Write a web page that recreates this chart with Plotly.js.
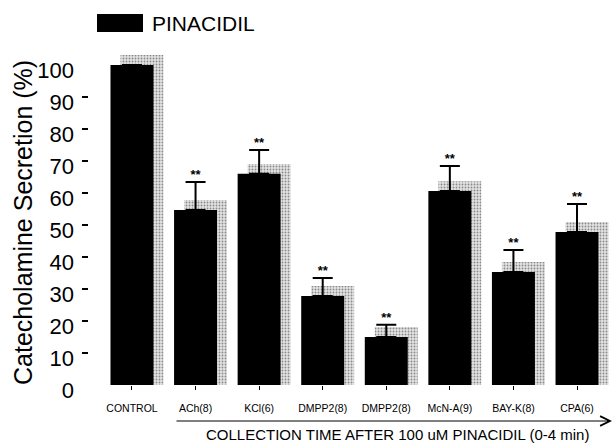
<!DOCTYPE html>
<html>
<head>
<meta charset="utf-8">
<script src="https://cdn.plot.ly/plotly-3.0.1.min.js"></script>
<style>
  html, body { margin: 0; padding: 0; background: #fff; }
  #chart { width: 616px; height: 443px; }
</style>
</head>
<body>
<div id="chart"></div>
<script>
// Catecholamine secretion evoked by pinacidil under each condition
const categories = ['CONTROL', 'ACh(8)', 'KCl(6)', 'DMPP2(8)', 'DMPP2(8)', 'McN-A(9)', 'BAY-K(8)', 'CPA(6)'];
const secretion  = [100, 54.7, 66.0, 27.8, 15.0, 60.6, 35.3, 47.8];
const sem        = [0, 8.7, 7.4, 5.6, 3.8, 7.8, 6.9, 8.8];
const significance = ['', '**', '**', '**', '**', '**', '**', '**'];
const yTicks = [0, 10, 20, 30, 40, 50, 60, 70, 80, 90, 100];

const pos = categories.map((_, i) => i);
const BAR_W = 0.676;        // bar width in category units
const SHADOW_DX = 0.157;    // drop shadow shift to the right
const SHADOW_DY = 3.1;      // drop shadow shift upward

const FONT = 'Liberation Sans, Arial, Helvetica, sans-serif';

const shadow = {
  type: 'bar',
  x: pos,
  y: secretion.map(v => v + SHADOW_DY),
  width: BAR_W,
  offset: -BAR_W / 2 + SHADOW_DX,
  marker: {
    color: '#d8d8d8',
    line: { width: 0 },
    pattern: { shape: '.', fgcolor: '#8a8a8a', bgcolor: '#e4e4e4', size: 3, solidity: 0.3 }
  },
  hoverinfo: 'skip',
  showlegend: false
};

const bars = {
  type: 'bar',
  x: pos,
  y: secretion,
  width: BAR_W,
  offset: -BAR_W / 2,
  marker: { color: '#000000', line: { width: 0 } },
  error_y: {
    type: 'data',
    symmetric: false,
    array: sem.map(v => v || null),
    arrayminus: sem.map(() => 0),
    color: '#000000',
    thickness: 2,
    width: 10
  },
  name: 'PINACIDIL',
  hoverinfo: 'skip',
  showlegend: false
};

const stars = {
  type: 'scatter',
  mode: 'text',
  x: pos,
  y: secretion.map((v, i) => v + sem[i]),
  text: significance.map(s => s ? '<b>' + s + '</b>' : ''),
  textposition: 'top center',
  textfont: { family: FONT, size: 13, color: '#000000' },
  hoverinfo: 'skip',
  showlegend: false,
  cliponaxis: false
};

const L = 89, R = 6, T = 45, B = 58;
const plotW = 616 - L - R, plotH = 443 - T - B;
const px2paperX = p => (p - L) / plotW;
const px2paperY = p => (443 - B - p) / plotH;

const layout = {
  width: 616,
  height: 443,
  margin: { l: L, r: R, t: T, b: B },
  paper_bgcolor: '#ffffff',
  plot_bgcolor: '#ffffff',
  barmode: 'overlay',
  showlegend: false,
  font: { family: FONT, color: '#000' },
  xaxis: {
    range: [-0.676, 7.519],
    tickmode: 'array',
    tickvals: pos,
    ticktext: categories,
    ticks: 'outside',
    ticklen: 4,
    tickwidth: 1,
    tickcolor: '#000',
    ticklabelstandoff: 9,
    tickfont: { family: FONT, size: 10.5, color: '#000' },
    showline: false,
    showgrid: false,
    zeroline: false,
    fixedrange: true
  },
  yaxis: {
    range: [0, 106.25],
    tickmode: 'array',
    tickvals: yTicks,
    ticktext: yTicks.map(String),
    ticks: '',
    ticklabelstandoff: 14,
    ticklabelshift: 5,
    tickfont: { family: FONT, size: 22, color: '#000' },
    minor: {
      tickmode: 'array',
      tickvals: yTicks.slice(1, -1),
      ticks: 'outside',
      ticklen: 6,
      tickwidth: 1.5,
      tickcolor: '#000',
      showgrid: false
    },
    showline: false,
    showgrid: false,
    zeroline: false,
    fixedrange: true
  },
  shapes: [
    // legend swatch
    {
      type: 'rect', xref: 'paper', yref: 'paper',
      x0: px2paperX(97), x1: px2paperX(143),
      y0: px2paperY(32), y1: px2paperY(14),
      fillcolor: '#000', line: { width: 0 }
    }
  ],
  annotations: [
    {
      xref: 'paper', yref: 'paper',
      x: px2paperX(150), y: px2paperY(23),
      xanchor: 'left', yanchor: 'middle',
      text: 'PINACIDIL', showarrow: false,
      font: { family: FONT, size: 21, color: '#000' }
    },
    // y-axis title
    {
      xref: 'paper', yref: 'paper',
      x: px2paperX(23), y: px2paperY(223),
      xanchor: 'center', yanchor: 'middle',
      textangle: -90,
      text: 'Catecholamine Secretion (%)', showarrow: false,
      font: { family: FONT, size: 25, color: '#000' }
    },
    // time-course arrow under the category labels
    {
      xref: 'paper', yref: 'paper',
      x: px2paperX(612), y: px2paperY(421),
      ax: -437, ay: 0,
      text: '', showarrow: true,
      arrowhead: 5, arrowsize: 1.6, arrowwidth: 1.2, arrowcolor: '#000'
    },
    {
      xref: 'paper', yref: 'paper',
      x: px2paperX(397), y: px2paperY(434),
      xanchor: 'center', yanchor: 'middle',
      text: 'COLLECTION TIME AFTER 100 uM PINACIDIL (0-4 min)', showarrow: false,
      font: { family: FONT, size: 15, color: '#000' }
    }
  ]
};

Plotly.newPlot('chart', [shadow, bars, stars], layout, { displayModeBar: false, staticPlot: true });
</script>
</body>
</html>
